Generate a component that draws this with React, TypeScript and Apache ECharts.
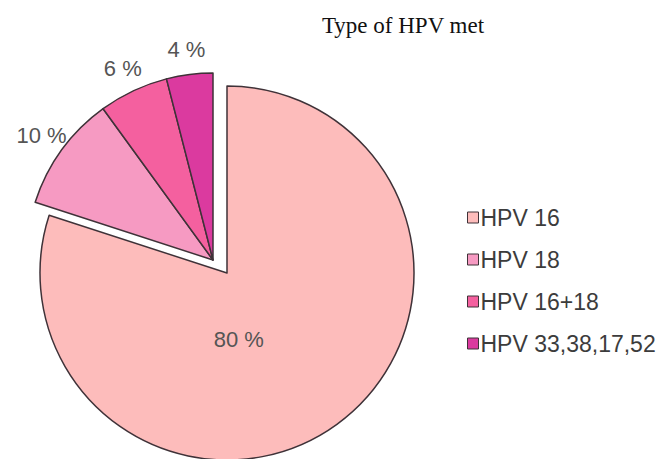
import React, { useEffect, useRef } from "react";
import * as echarts from "echarts";

const categories = ["HPV 16", "HPV 18", "HPV 16+18", "HPV 33,38,17,52"];
const values = [80, 10, 6, 4];
const colors = ["#fdbcbb", "#f69ac2", "#f4609f", "#db3a9f"];
const titleText = "Type of HPV met";

export default function App() {
  const ref = useRef<HTMLDivElement>(null);
  useEffect(() => {
    if (!ref.current) return;
    const chart = echarts.init(ref.current, null, { renderer: "svg" });
    const total = values.reduce((a, b) => a + b, 0);
    const R = 187;
    const bigCenter = [227, 273];
    const smallCenter = [213, 260];
    const border = { borderColor: "#3f3238", borderWidth: 1.5 };
    const labelFont = { fontFamily: "Liberation Sans", fontSize: 22, color: "#555" };
    const hidden = {
      value: 0,
      name: "",
      itemStyle: { color: "transparent", borderWidth: 0 },
      label: { show: false },
      labelLine: { show: false },
    };
    const restSum = values.slice(1).reduce((a, b) => a + b, 0);

    const midAngle = (idx: number) => {
      let cum = values[0];
      for (let i = 1; i < idx; i++) cum += values[i];
      return ((cum + values[idx] / 2) / total) * 360;
    };

    chart.setOption({
      animation: false,
      title: {
        text: titleText,
        left: 398,
        top: 9,
        textAlign: "center",
        textStyle: { fontFamily: "Liberation Serif", fontSize: 23, fontWeight: "normal", color: "#111" },
      },
      legend: {
        orient: "vertical",
        left: 462,
        top: 201,
        itemWidth: 11,
        itemHeight: 11,
        itemGap: 19,
        icon: "rect",
        data: categories,
        selectedMode: false,
        textStyle: { fontFamily: "Liberation Sans", fontSize: 23, lineHeight: 23, color: "#3c3c3c", padding: [0, 0, 0, -3] },
        itemStyle: { borderColor: "#3f3238", borderWidth: 1 },
      },
      series: [
        {
          type: "pie",
          silent: true,
          center: bigCenter,
          radius: R,
          startAngle: 90,
          clockwise: true,
          avoidLabelOverlap: false,
          label: { show: true, position: "inside", formatter: "{c} %", ...labelFont },
          labelLine: { show: false },
          labelLayout: (p: any) => (p.dataIndex === 0 ? { dx: -45, dy: -12 } : {}),
          data: [
            { value: values[0], name: categories[0], itemStyle: { color: colors[0], ...border } },
            { ...hidden, value: restSum },
          ],
        },
        {
          type: "pie",
          silent: true,
          center: smallCenter,
          radius: R,
          startAngle: 90,
          clockwise: true,
          avoidLabelOverlap: false,
          label: { show: true, position: "inside", formatter: "{c} %", ...labelFont },
          labelLine: { show: false },
          labelLayout: (p: any) => {
            const idx = p.dataIndex;
            if (idx === 0) return {};
            const a = (midAngle(idx) * Math.PI) / 180;
            const rl = 212;
            return {
              x: smallCenter[0] + Math.sin(a) * rl,
              y: smallCenter[1] - Math.cos(a) * rl,
              align: "center",
              verticalAlign: "middle",
            };
          },
          data: [
            { ...hidden, value: values[0] },
            ...values.slice(1).map((v, i) => ({
              value: v,
              name: categories[i + 1],
              itemStyle: { color: colors[i + 1], ...border },
            })),
          ],
        },
      ],
    });
    return () => chart.dispose();
  }, []);
  return (
    <div
      ref={ref}
      style={{ position: "absolute", left: 0, top: 0, width: 661, height: 459, background: "#fff" }}
    />
  );
}
